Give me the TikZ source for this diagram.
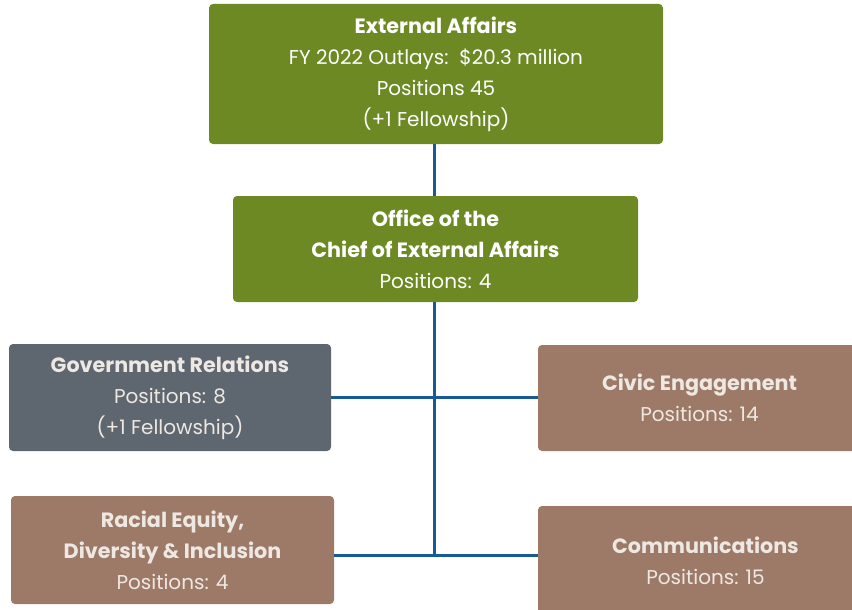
\documentclass[tikz,border=0pt]{standalone}
\usepackage{fontspec}
\setmainfont{Poppins}
\definecolor{affairsgreen}{RGB}{108,137,35}
\definecolor{relationsgray}{RGB}{94,102,112}
\definecolor{officebrown}{RGB}{157,122,103}
\definecolor{linkblue}{RGB}{24,90,150}
\definecolor{softwhite}{RGB}{238,232,227}
\tikzset{
  unit/.style={rounded corners=4pt, inner sep=0pt, align=center,
    font=\fontsize{20}{31}\selectfont},
  greenunit/.style={unit, fill=affairsgreen, text=white},
  grayunit/.style={unit, fill=relationsgray, text=softwhite},
  brownunit/.style={unit, fill=officebrown, text=softwhite},
  link/.style={draw=linkblue, line width=3pt}
}
\newcommand{\unitname}[1]{{\bfseries\fontsize{20.7}{30}\selectfont #1}}
\begin{document}
\begin{tikzpicture}[x=1pt,y=-1pt]
\useasboundingbox (0,0) rectangle (852,610);

% top level
\node[greenunit, minimum width=454, minimum height=140] (affairs) at (436,74)
  {\unitname{External Affairs}\\FY 2022 Outlays:\ \ \$20.3 million\\Positions 45\\(+1 Fellowship)};
\node[greenunit, minimum width=405, minimum height=106] (office) at (435.5,249)
  {\unitname{Office of the}\\\unitname{Chief of External Affairs}\\Positions: 4};

% divisions
\node[grayunit, minimum width=322, minimum height=107] (govt) at (170,397.5)
  {\unitname{Government Relations}\\Positions: 8\\(+1 Fellowship)};
\node[brownunit, minimum width=323, minimum height=106] (civic) at (699.5,398)
  {\unitname{Civic Engagement}\\Positions: 14};
\node[brownunit, minimum width=323, minimum height=108] (racial) at (172.5,550)
  {\unitname{Racial Equity,}\\\unitname{Diversity \& Inclusion}\\Positions: 4};
\node[brownunit, minimum width=335, minimum height=110] (comm) at (705.5,561)
  {\unitname{Communications}\\Positions: 15};

\coordinate (trunkend) at (434,555);

\draw[link] (trunkend |- affairs.south) -- (trunkend |- office.north);
\draw[link] (trunkend |- office.south) -- (trunkend);
\draw[link] (govt.east) -- (govt.east -| civic.west);
\draw[link] (racial.east |- trunkend) -- (comm.west |- trunkend);
\end{tikzpicture}
\end{document}
